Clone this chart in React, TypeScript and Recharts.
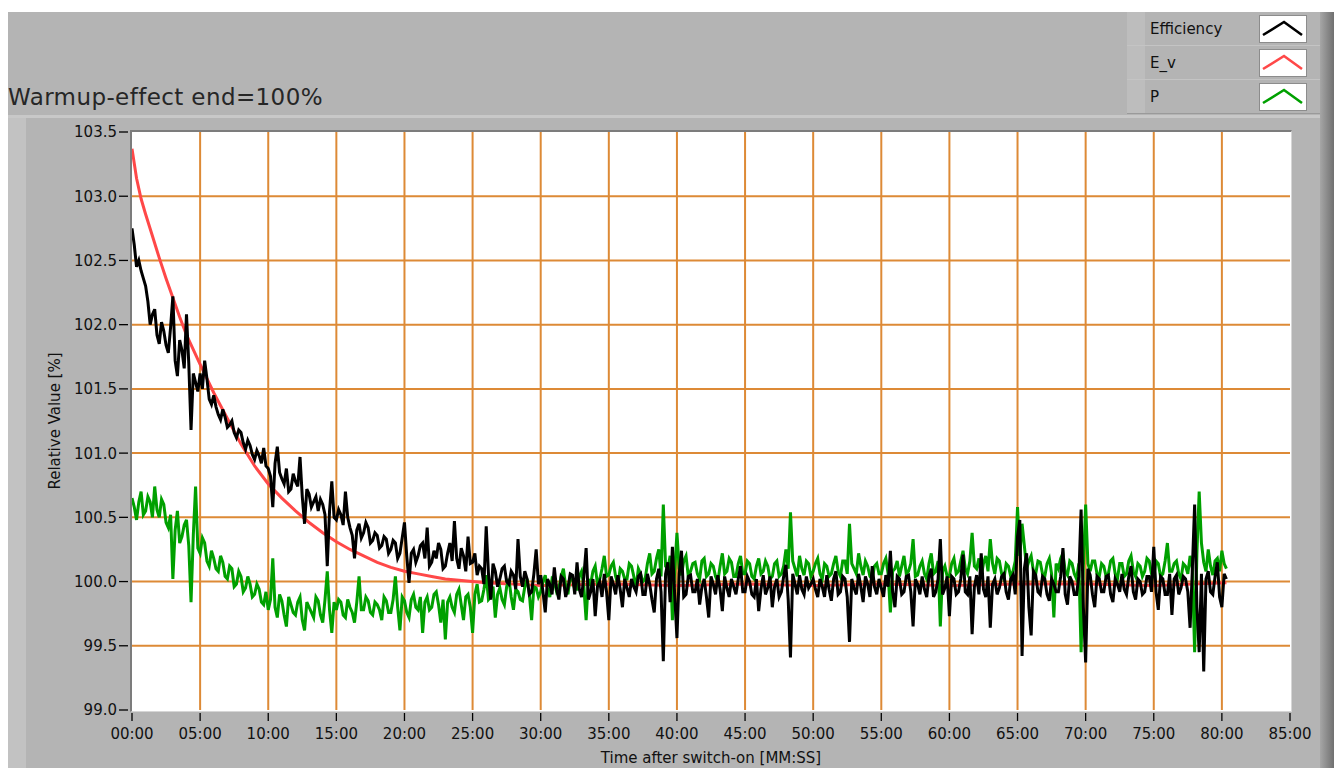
import { CartesianGrid, Line, LineChart, XAxis, YAxis } from 'recharts';

// samples every 10 s, 00:00 .. 80:20 (one row of 30 = five minutes)
const SAMPLE_SEC = 10;

const efficiency = [
  102.75, 102.62, 102.45, 102.5, 102.42, 102.36, 102.3, 102.18, 102.0, 102.08, 102.12, 101.92, 101.85, 102.02, 101.95, 101.84, 101.78, 101.98, 102.22, 101.72, 101.6, 101.88, 101.8, 101.66, 102.08, 101.7, 101.18, 101.62, 101.55, 101.48,
  101.62, 101.5, 101.72, 101.58, 101.42, 101.38, 101.45, 101.36, 101.3, 101.26, 101.34, 101.28, 101.2, 101.22, 101.25, 101.16, 101.12, 101.18, 101.16, 101.08, 101.03, 101.1, 101.06, 100.99, 100.95, 101.02, 100.98, 100.92, 101.04, 100.9,
  100.88, 100.82, 100.58, 100.92, 101.05, 100.85, 100.8, 100.76, 100.88, 100.7, 100.72, 100.84, 100.78, 100.74, 100.97, 100.66, 100.45, 100.72, 100.68, 100.58, 100.62, 100.66, 100.55, 100.64, 100.6, 100.52, 100.12, 100.55, 100.78, 100.5,
  100.48, 100.56, 100.52, 100.44, 100.7, 100.5, 100.42, 100.36, 100.18, 100.4, 100.45, 100.34, 100.38, 100.46, 100.42, 100.3, 100.32, 100.38, 100.36, 100.26, 100.28, 100.35, 100.33, 100.22, 100.25, 100.32, 100.3, 100.18, 100.22, 100.34,
  100.46, 100.2, 99.99, 100.22, 100.25, 100.15, 100.2, 100.28, 100.3, 100.18, 100.42, 100.12, 100.15, 100.24, 100.18, 100.3, 100.25, 100.1, 100.12, 100.22, 100.3, 100.16, 100.47, 100.18, 100.1, 100.26, 100.2, 100.08, 100.35, 100.14,
  100.15, 100.22, 100.05, 100.12, 100.1, 99.98, 100.43, 100.06, 99.86, 100.14, 100.08, 99.96, 100.02, 100.1, 100.12, 100.0, 99.98, 100.08, 100.05, 99.94, 100.33, 100.04, 99.96, 100.08, 100.02, 99.9, 99.92, 100.06, 100.25, 99.98,
  100.05, 99.92, 99.76, 100.02, 99.98, 99.9, 100.11, 99.94, 99.86, 100.04, 100.02, 99.88, 99.95, 100.06, 100.05, 99.9, 100.15, 99.94, 99.88, 100.04, 100.26, 99.86, 99.92, 100.02, 99.73, 99.96, 100.0, 99.88, 100.06, 99.92,
  99.7, 100.04, 99.98, 99.9, 100.05, 99.94, 99.8, 100.02, 99.95, 99.88, 100.02, 99.96, 99.92, 100.04, 100.06, 99.9, 99.9, 100.06, 99.98, 99.86, 99.76, 100.02, 100.1, 99.92, 99.38, 100.06, 100.15, 99.84, 100.27, 99.9,
  99.56, 100.06, 100.24, 99.88, 99.9, 100.04, 100.05, 99.92, 99.92, 100.02, 99.82, 99.96, 100.02, 99.88, 99.72, 100.04, 99.98, 99.9, 100.05, 99.94, 99.77, 100.04, 99.95, 99.88, 100.02, 99.96, 99.9, 100.02, 100.12, 99.92,
  99.92, 100.04, 100.0, 99.9, 99.88, 100.02, 99.77, 99.94, 100.05, 99.9, 99.95, 100.04, 99.8, 99.96, 100.02, 99.88, 99.92, 100.04, 100.13, 99.86, 99.41, 100.06, 99.98, 99.9, 100.05, 99.94, 99.9, 100.04, 99.95, 99.98,
  100.02, 99.94, 99.88, 100.02, 99.96, 99.88, 100.05, 99.94, 99.85, 100.02, 100.08, 99.9, 99.92, 100.04, 100.02, 99.88, 99.53, 100.02, 99.95, 99.9, 100.06, 99.96, 99.84, 100.04, 99.98, 99.88, 100.12, 99.96, 99.9, 100.02,
  99.95, 99.88, 100.05, 99.96, 100.24, 99.92, 99.8, 100.04, 100.02, 99.9, 99.92, 100.04, 100.05, 99.92, 99.65, 100.02, 99.98, 99.9, 100.04, 99.94, 99.88, 100.04, 100.1, 99.88, 99.92, 100.02, 100.33, 99.9, 99.95, 100.04,
  99.73, 100.04, 100.02, 99.9, 99.92, 100.02, 100.21, 99.92, 99.9, 100.04, 99.59, 99.96, 100.05, 99.9, 100.22, 99.94, 99.88, 100.04, 99.64, 99.98, 100.02, 99.9, 99.95, 100.04, 100.06, 99.92, 99.86, 100.02, 100.05, 99.9,
  100.35, 100.48, 99.42, 100.1, 100.22, 99.8, 99.58, 100.08, 100.05, 99.92, 99.9, 100.04, 100.02, 99.9, 99.85, 100.02, 99.98, 99.92, 99.92, 100.04, 100.26, 99.9, 99.82, 100.04, 100.0, 99.9, 99.9, 100.04, 100.56, 99.8,
  99.37, 100.1, 100.05, 99.9, 99.8, 100.04, 100.02, 99.92, 99.92, 100.04, 100.05, 99.9, 99.84, 100.02, 99.98, 99.92, 100.06, 99.94, 99.9, 100.04, 100.12, 99.92, 99.86, 100.02, 100.0, 99.9, 99.92, 100.04, 100.04, 99.92,
  100.27, 99.92, 99.78, 100.04, 100.02, 99.9, 99.9, 100.06, 99.74, 100.02, 100.05, 99.9, 99.95, 100.04, 100.02, 99.92, 99.64, 100.1, 100.6, 99.8, 99.45, 100.06, 99.3, 100.02, 100.08, 99.92, 99.9, 100.04, 100.15, 99.88,
  99.8, 100.06, 100.02,
];

const power = [
  100.65, 100.58, 100.48, 100.62, 100.7, 100.52, 100.55, 100.66, 100.62, 100.5, 100.74, 100.56, 100.5, 100.64, 100.6, 100.46, 100.42, 100.52, 100.02, 100.4, 100.55, 100.3, 100.35, 100.44, 100.48, 100.28, 99.84, 100.36, 100.74, 100.26,
  100.22, 100.34, 100.3, 100.16, 100.12, 100.24, 100.18, 100.1, 100.08, 100.2, 100.15, 100.04, 100.02, 100.12, 100.1, 99.96, 99.98, 100.08, 100.04, 99.92, 99.95, 100.04, 99.98, 99.88, 99.9, 99.98, 99.94, 99.84, 99.82, 99.92,
  99.78, 99.86, 100.18, 99.8, 99.72, 99.9, 99.85, 99.74, 99.65, 99.88, 99.82, 99.76, 99.74, 99.84, 99.88, 99.7, 99.62, 99.84, 99.8, 99.76, 99.72, 99.88, 99.85, 99.74, 99.68, 99.86, 100.08, 99.78, 99.6, 99.84,
  99.78, 99.86, 99.84, 99.74, 99.72, 99.86, 99.8, 99.76, 99.68, 99.84, 100.04, 99.78, 99.78, 99.88, 99.85, 99.76, 99.74, 99.84, 99.82, 99.78, 99.7, 99.88, 99.85, 99.76, 99.76, 99.86, 100.04, 99.8, 99.62, 99.88,
  99.85, 99.76, 99.72, 99.86, 99.9, 99.8, 99.78, 99.88, 99.6, 99.84, 99.88, 99.78, 99.8, 99.9, 99.92, 99.82, 99.68, 99.86, 99.55, 99.84, 99.88, 99.8, 99.76, 99.9, 99.94, 99.82, 99.7, 99.88, 99.9, 99.8,
  99.6, 99.9, 99.98, 99.84, 99.85, 99.94, 100.05, 99.86, 99.88, 99.96, 99.72, 99.9, 99.95, 99.86, 99.82, 99.96, 100.02, 99.88, 99.78, 99.94, 99.92, 99.86, 99.85, 99.96, 100.02, 99.9, 99.7, 99.96, 99.95, 99.88,
  99.92, 100.0, 100.05, 99.94, 99.88, 100.02, 100.0, 99.92, 99.95, 100.04, 100.1, 99.96, 99.9, 100.04, 100.02, 99.94, 99.94, 100.04, 100.08, 99.96, 99.7, 100.02, 99.98, 100.08, 100.12, 99.98, 100.02, 100.1, 100.2, 100.04,
  100.05, 100.12, 100.15, 100.04, 99.98, 100.1, 100.08, 100.02, 100.02, 100.14, 100.12, 100.04, 99.95, 100.1, 100.06, 100.0, 100.02, 100.14, 100.22, 100.06, 100.08, 100.18, 100.25, 100.04, 100.6, 100.12, 100.1, 100.2, 99.7, 100.08,
  100.38, 100.1, 100.05, 100.16, 100.2, 100.04, 100.08, 100.14, 100.15, 100.06, 100.02, 100.16, 100.18, 100.04, 100.06, 100.14, 100.12, 100.04, 100.0, 100.12, 100.22, 100.06, 100.08, 100.18, 100.15, 100.04, 100.04, 100.14, 100.2, 100.06,
  100.06, 100.16, 100.14, 100.04, 100.02, 100.12, 100.18, 100.06, 100.08, 100.16, 100.12, 100.02, 100.04, 100.14, 100.16, 100.04, 100.06, 100.12, 100.25, 100.1, 100.54, 100.16, 100.1, 100.04, 100.2, 100.1, 100.05, 100.16, 100.14, 100.04,
  100.08, 100.14, 100.18, 100.06, 100.02, 100.14, 100.12, 100.04, 100.06, 100.14, 100.2, 100.08, 100.04, 100.16, 100.16, 100.06, 100.45, 100.14, 100.1, 100.06, 100.22, 100.12, 100.05, 100.16, 100.12, 100.04, 100.02, 100.12, 100.14, 100.06,
  100.06, 100.14, 100.18, 100.06, 99.76, 100.08, 100.1, 100.16, 100.04, 100.12, 100.2, 100.06, 100.08, 100.14, 100.33, 100.04, 100.05, 100.12, 100.16, 100.06, 100.02, 100.14, 100.22, 100.06, 100.08, 100.16, 99.65, 100.08, 100.12, 100.04,
  100.04, 100.14, 100.18, 100.06, 100.08, 100.16, 100.24, 100.1, 100.06, 100.16, 100.38, 100.12, 100.1, 100.18, 100.04, 100.14, 100.2, 100.08, 100.33, 100.14, 100.06, 100.18, 100.16, 100.06, 100.02, 100.14, 100.12, 100.04, 100.08, 100.16,
  100.58, 100.2, 100.45, 100.28, 100.1, 100.16, 100.2, 100.08, 100.06, 100.16, 100.15, 100.06, 100.04, 100.14, 100.18, 100.06, 99.72, 100.14, 100.1, 100.18, 100.22, 100.08, 100.05, 100.16, 100.14, 100.06, 100.02, 100.14, 99.45, 100.12,
  100.6, 100.14, 100.08, 100.16, 100.16, 100.06, 100.04, 100.14, 100.12, 100.04, 100.06, 100.16, 100.18, 100.06, 100.02, 100.14, 100.14, 100.04, 100.06, 100.16, 100.2, 100.08, 100.04, 100.14, 100.12, 100.04, 100.08, 100.18, 100.16, 100.06,
  100.04, 100.16, 100.14, 100.04, 100.06, 100.16, 100.3, 100.08, 100.08, 100.14, 100.16, 100.06, 100.02, 100.14, 100.12, 100.06, 100.2, 100.1, 99.45, 100.22, 100.7, 100.3, 100.15, 100.08, 100.25, 100.12, 100.05, 100.16, 100.18, 100.08,
  100.24, 100.14, 100.1,
];

// E_v model curve, irregular sample times in seconds
const evTimes = [
  0, 20, 40, 60, 90, 120, 150, 180, 210, 240, 300, 360, 420, 480, 540, 600, 660, 720, 780, 840, 900, 960, 1020,
  1080, 1140, 1200, 1260, 1320, 1380, 1440, 1500, 1560, 1680, 1800, 2100, 2400, 2700, 3000, 3300, 3600, 3900,
  4200, 4500, 4820,
];
const evValues = [
  103.37, 103.14, 102.98, 102.86, 102.69, 102.52, 102.36, 102.21, 102.06, 101.92, 101.69, 101.47, 101.27, 101.07,
  100.9, 100.76, 100.65, 100.55, 100.46, 100.38, 100.31, 100.25, 100.2, 100.15, 100.11, 100.08, 100.06, 100.04,
  100.02, 100.01, 100.0, 99.99, 99.98, 99.97, 99.98, 99.97, 99.98, 99.97, 99.98, 99.97, 99.98, 99.98, 99.97, 99.99,
];

const xTickMinutes = [0, 5, 10, 15, 20, 25, 30, 35, 40, 45, 50, 55, 60, 65, 70, 75, 80, 85];
const yTicks = [99.0, 99.5, 100.0, 100.5, 101.0, 101.5, 102.0, 102.5, 103.0, 103.5];

type Row = { t: number; eff?: number; ev?: number; p?: number };

const buildTable = (): Row[] => {
  const rows = new Map<number, Row>();
  const get = (t: number) => {
    if (!rows.has(t)) rows.set(t, { t });
    return rows.get(t)!;
  };
  efficiency.forEach((v, i) => (get(i * SAMPLE_SEC).eff = v));
  power.forEach((v, i) => (get(i * SAMPLE_SEC).p = v));
  evTimes.forEach((t, i) => (get(t).ev = evValues[i]));
  return Array.from(rows.values()).sort((a, b) => a.t - b.t);
};

const data = buildTable();
const xTicks = xTickMinutes.map((m) => m * 60);

const FONT = '"DejaVu Sans", sans-serif';
const GRID = '#DD8A36';
const PANEL = '#B4B4B4';

const fmtTime = (s: number) => `${String(Math.floor(s / 60)).padStart(2, '0')}:00`;

const YTick = (props: any) => {
  const { x, y, payload } = props;
  return (
    <g>
      <line x1={x - 13} x2={x - 4} y1={y} y2={y} stroke="#000" strokeWidth={1.3} />
      <text x={x - 15} y={y} dy="0.36em" textAnchor="end" fontSize={15} fontFamily={FONT} fill="#111">
        {Number(payload.value).toFixed(1)}
      </text>
    </g>
  );
};

const XTick = (props: any) => {
  const { x, y, payload } = props;
  return (
    <g>
      <line x1={x} x2={x} y1={y + 3} y2={y + 11} stroke="#000" strokeWidth={1.3} />
      <text x={x} y={y + 24} dy="0.36em" textAnchor="middle" fontSize={15} fontFamily={FONT} fill="#111">
        {fmtTime(payload.value)}
      </text>
    </g>
  );
};

const legendItems = [
  { name: 'Efficiency', color: '#000000' },
  { name: 'E_v', color: '#FF4848' },
  { name: 'P', color: '#00A000' },
];

const abs = (left: number, top: number, width: number, height: number, extra: React.CSSProperties = {}) =>
  ({ position: 'absolute', left, top, width, height, ...extra }) as React.CSSProperties;

const App = () => {
  return (
    <div style={{ fontFamily: FONT }}>
      {/* panel frame */}
      <div style={abs(8, 12, 1312, 756, { background: PANEL })} />
      <div style={abs(8, 115, 1312, 3, { background: '#C8C8C8' })} />
      <div style={abs(8, 118, 18, 650, { background: '#C2C2C2' })} />
      <div style={abs(1320, 12, 14, 756, { background: 'linear-gradient(to right, #A6A6A6, #707070)' })} />

      <div
        style={abs(8, 86, 620, 23, {
          fontSize: 23,
          lineHeight: '23px',
          letterSpacing: 0.4,
          color: '#262626',
          whiteSpace: 'nowrap',
        })}
      >
        Warmup-effect end=100%
      </div>

      {/* legend */}
      <div style={abs(1127, 12, 193, 101, { background: PANEL, borderBottom: '1px solid #9A9A9A' })}>
        <div style={abs(0, 0, 18, 101, { background: '#BDBDBD' })} />
        {legendItems.map((item, i) => (
          <div
            key={item.name}
            style={abs(0, i * 34, 193, 33, {
              display: 'flex',
              alignItems: 'center',
              borderBottom: i < 2 ? '1px solid #C4C4C4' : 'none',
            })}
          >
            <span style={{ marginLeft: 23, width: 109, fontSize: 15, color: '#111' }}>{item.name}</span>
            <svg width={46} height={26} style={{ background: '#fff', border: '1px solid #8C8C8C' }}>
              <polyline
                points="3,19 24,6 42,19"
                fill="none"
                stroke={item.color}
                strokeWidth={2.6}
                strokeLinejoin="miter"
              />
            </svg>
          </div>
        ))}
      </div>

      {/* plot background */}
      <div
        style={abs(130, 130, 1159, 579, {
          background: '#fff',
          borderTop: '2px solid #7C7C7C',
          borderLeft: '2px solid #7C7C7C',
          borderRight: '1px solid #D6D6D6',
          borderBottom: '1px solid #D6D6D6',
        })}
      />

      <div
        style={abs(55 - 100, 421 - 10, 200, 20, {
          transform: 'rotate(-90deg)',
          textAlign: 'center',
          fontSize: 15,
          lineHeight: '20px',
          color: '#111',
        })}
      >
        Relative Value [%]
      </div>
      <div style={abs(511, 748, 400, 20, { textAlign: 'center', fontSize: 15, lineHeight: '20px', color: '#111' })}>
        Time after switch-on [MM:SS]
      </div>

      <div style={abs(0, 0, 1334, 768)}>
        <LineChart width={1334} height={768} data={data} margin={{ top: 132, right: 44, bottom: 28, left: 72 }}>
          <CartesianGrid
            stroke={GRID}
            strokeWidth={2}
            horizontalValues={[99.5, 100, 100.5, 101, 101.5, 102, 102.5, 103]}
            verticalValues={xTicks.slice(1, -1)}
          />
          <XAxis
            dataKey="t"
            type="number"
            domain={[0, 5100]}
            ticks={xTicks}
            interval={0}
            tick={<XTick />}
            tickLine={false}
            axisLine={false}
            tickSize={0}
            tickMargin={0}
            height={30}
            allowDataOverflow
          />
          <YAxis
            type="number"
            domain={[99, 103.5]}
            ticks={yTicks}
            interval={0}
            tick={<YTick />}
            tickLine={false}
            axisLine={false}
            tickSize={0}
            tickMargin={0}
            width={60}
            allowDataOverflow
          />
          <Line
            dataKey="ev"
            type="linear"
            stroke="#FF4848"
            strokeWidth={3}
            dot={false}
            connectNulls
            isAnimationActive={false}
          />
          <Line
            dataKey="p"
            type="linear"
            stroke="#00A000"
            strokeWidth={3}
            strokeLinejoin="miter"
            dot={false}
            connectNulls
            isAnimationActive={false}
          />
          <Line
            dataKey="eff"
            type="linear"
            stroke="#000000"
            strokeWidth={3}
            strokeLinejoin="miter"
            dot={false}
            connectNulls
            isAnimationActive={false}
          />
        </LineChart>
      </div>
    </div>
  );
};

export default App;
